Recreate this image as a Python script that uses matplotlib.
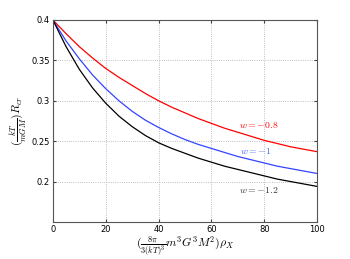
import matplotlib
matplotlib.use('Agg')
import matplotlib.pyplot as plt

## dados
x = [0, 5, 10, 15, 20, 25, 30, 35, 40, 45, 50, 55, 60, 65, 70, 75, 80, 85, 90, 95, 100]
r_w08 = [0.400, 0.383, 0.367, 0.353, 0.340, 0.329, 0.319, 0.309, 0.300, 0.292, 0.285,
         0.278, 0.272, 0.266, 0.261, 0.256, 0.251, 0.247, 0.243, 0.240, 0.237]
r_w10 = [0.400, 0.374, 0.352, 0.332, 0.315, 0.300, 0.287, 0.276, 0.267, 0.259, 0.252,
         0.246, 0.241, 0.236, 0.231, 0.227, 0.223, 0.219, 0.216, 0.213, 0.210]
r_w12 = [0.400, 0.367, 0.339, 0.316, 0.297, 0.281, 0.268, 0.257, 0.248, 0.241, 0.235,
         0.229, 0.224, 0.219, 0.215, 0.211, 0.207, 0.203, 0.200, 0.197, 0.194]
xticks = [0, 20, 40, 60, 80, 100]
yticks = [0.2, 0.25, 0.3, 0.35, 0.4]
ylabels = ['0.2', '0.25', '0.3', '0.35', '0.4']

plt.rcParams['mathtext.fontset'] = 'cm'

fig = plt.figure(figsize=(3.5, 2.59), dpi=100)
ax = fig.add_axes([0.151, 0.143, 0.755, 0.78])

ax.plot(x, r_w08, color='red', lw=0.9)
ax.plot(x, r_w10, color='#3344ff', lw=0.9)
ax.plot(x, r_w12, color='black', lw=0.9)

ax.text(70.5, 0.2695, r'$w=-0.8$', color='red', fontsize=7, va='center')
ax.text(71, 0.238, r'$w=-1$', color='#4466ff', fontsize=7, va='center')
ax.text(70.5, 0.190, r'$w=-1.2$', color='#333333', fontsize=7, va='center')

ax.set_xlim(0, 100)
ax.set_ylim(0.15, 0.4)
ax.set_xticks(xticks)
ax.set_yticks(yticks)
ax.set_yticklabels(ylabels)
ax.tick_params(direction='in', labelsize=6, length=2.5, top=True, right=True, pad=2, colors='#444444', labelcolor='black')
ax.grid(True, linestyle=':', color='#aaaaaa', lw=0.6)
for s in ax.spines.values():
    s.set_color('#555555')
    s.set_linewidth(0.8)

ax.set_xlabel(r'$(\frac{8\pi}{3(kT)^3}m^3G^3M^2)\rho_X$', fontsize=8.5, labelpad=1)
ax.set_ylabel(r'$(\frac{kT}{mGM})R_{cr}$', fontsize=8.5, labelpad=2)

fig.savefig('out.png', dpi=100)
